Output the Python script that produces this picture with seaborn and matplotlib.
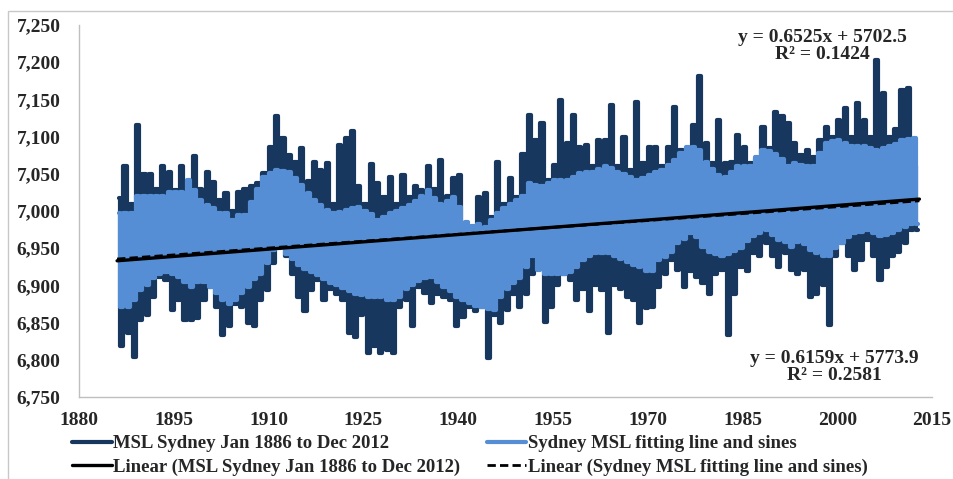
import numpy as np
import pandas as pd
import matplotlib
matplotlib.use("Agg")
import matplotlib.pyplot as plt
import seaborn as sns
from matplotlib.patches import Rectangle
from matplotlib.ticker import FuncFormatter

years = np.arange(1886, 2013)

msl_high = [
    7017, 7060, 7010, 7116, 7050, 7050, 7030, 7060, 7053, 7028,
    7060, 7040, 7074, 7030, 7052, 7039, 7015, 7024, 7000, 7026,
    7030, 7033, 7037, 7051, 7086, 7128, 7098, 7075, 7066, 7084,
    7040, 7066, 7055, 7064, 7010, 7089, 7098, 7108, 7033, 7010,
    7063, 7037, 7019, 7046, 7010, 7048, 7019, 7033, 7028, 7060,
    7030, 7069, 7020, 7044, 7048, 6981, 6978, 7019, 7024, 6992,
    7066, 7010, 7044, 7019, 7077, 7129, 7096, 7118, 7042, 7062,
    7149, 7091, 7129, 7086, 7089, 7060, 7096, 7096, 7142, 7060,
    7100, 7055, 7147, 7064, 7086, 7086, 7060, 7086, 7140, 7082,
    7080, 7115, 7181, 7091, 7065, 7122, 7064, 7066, 7102, 7086,
    7065, 7070, 7113, 7085, 7133, 7127, 7118, 7091, 7075, 7082,
    7073, 7095, 7113, 7100, 7122, 7138, 7100, 7145, 7122, 7100,
    7203, 7158, 7100, 7110, 7163, 7165, 7060,
]
msl_low = [
    6818, 6836, 6804, 6854, 6860, 6885, 6912, 6907, 6867, 6880,
    6854, 6854, 6856, 6880, 6898, 6871, 6833, 6845, 6875, 6871,
    6849, 6845, 6880, 6894, 6930, 6952, 6939, 6916, 6885, 6865,
    6894, 6907, 6880, 6895, 6889, 6880, 6836, 6831, 6860, 6809,
    6818, 6809, 6813, 6809, 6871, 6880, 6845, 6898, 6890, 6876,
    6889, 6885, 6880, 6845, 6858, 6871, 6866, 6871, 6802, 6860,
    6849, 6867, 6889, 6871, 6889, 6916, 6939, 6851, 6871, 6900,
    6916, 6907, 6880, 6895, 6865, 6900, 6894, 6836, 6900, 6895,
    6885, 6880, 6849, 6870, 6871, 6898, 6916, 6934, 6921, 6898,
    6920, 6912, 6903, 6889, 6915, 6921, 6833, 6889, 6925, 6920,
    6943, 6940, 6957, 6940, 6925, 6943, 6921, 6916, 6921, 6885,
    6889, 6900, 6847, 6939, 6957, 6940, 6921, 6934, 6961, 6940,
    6907, 6925, 6939, 6945, 6957, 6974, 6974,
]

# fitting line and sines, yearly high / low
fit_high = [
    6997, 6997, 6997, 7020, 7020, 7020, 7020, 7020, 7026, 7026,
    7026, 7042, 7028, 7015, 7008, 7004, 6997, 6997, 6988, 6995,
    6995, 7012, 7030, 7046, 7051, 7055, 7054, 7053, 7044, 7035,
    7024, 7015, 7008, 7001, 6997, 6998, 7001, 7004, 7006, 7000,
    6996, 6988, 6992, 6997, 7000, 7004, 7008, 7013, 7020, 7028,
    7018, 7010, 7014, 7019, 7005, 6985, 6980, 6982, 6979, 6988,
    6997, 7004, 7010, 7015, 7020, 7037, 7035, 7033, 7038, 7042,
    7042, 7042, 7046, 7051, 7052, 7053, 7056, 7060, 7058, 7053,
    7050, 7046, 7042, 7044, 7048, 7053, 7055, 7062, 7069, 7078,
    7086, 7086, 7082, 7066, 7056, 7048, 7046, 7053, 7060, 7060,
    7060, 7072, 7082, 7080, 7077, 7070, 7060, 7064, 7062, 7060,
    7060, 7078, 7091, 7094, 7096, 7092, 7087, 7087, 7087, 7085,
    7082, 7085, 7087, 7090, 7096, 7097, 7098,
]
fit_low = [
    6871, 6871, 6880, 6894, 6900, 6910, 6916, 6918, 6916, 6912,
    6905, 6898, 6905, 6905, 6898, 6890, 6880, 6875, 6880, 6890,
    6898, 6908, 6916, 6930, 6948, 6950, 6942, 6936, 6928, 6922,
    6918, 6914, 6908, 6903, 6900, 6897, 6893, 6889, 6887, 6885,
    6884, 6885, 6880, 6880, 6885, 6895, 6900, 6906, 6910, 6912,
    6905, 6898, 6892, 6885, 6880, 6876, 6873, 6871, 6869, 6867,
    6885, 6895, 6903, 6910, 6925, 6939, 6921, 6916, 6916, 6916,
    6916, 6918, 6925, 6934, 6940, 6943, 6943, 6943, 6940, 6935,
    6932, 6928, 6925, 6920, 6920, 6934, 6938, 6945, 6957, 6962,
    6970, 6965, 6952, 6945, 6942, 6939, 6942, 6946, 6950, 6960,
    6966, 6970, 6974, 6968, 6961, 6958, 6952, 6958, 6955, 6948,
    6943, 6940, 6940, 6950, 6957, 6965, 6970, 6972, 6974, 6970,
    6966, 6968, 6970, 6975, 6979, 6982, 6983,
]

# Excel trendlines
trend_msl = (0.6525, 5702.5, 0.1424)
trend_fit = (0.6159, 5773.9, 0.2581)

lbl_msl = "MSL Sydney Jan 1886 to Dec 2012"
lbl_fit = "Sydney MSL fitting line and sines"

dark = "#17375E"
light = "#558ED5"

# high/low within each year
t = np.column_stack((years + 0.25, years + 0.75)).ravel()
df = pd.concat([
    pd.DataFrame({"t": t, "v": np.column_stack((msl_high, msl_low)).ravel(), "s": lbl_msl}),
    pd.DataFrame({"t": t, "v": np.column_stack((fit_high, fit_low)).ravel(), "s": lbl_fit}),
])

sns.set_theme(style="white")
plt.rcParams["font.family"] = ["Liberation Serif", "DejaVu Serif"]
plt.rcParams["font.weight"] = "bold"

fig = plt.figure(figsize=(9.54, 4.79), dpi=100)
ax = fig.add_axes([0.083, 0.171, 0.894, 0.777])

sns.lineplot(data=df[df.s == lbl_msl], x="t", y="v", ax=ax, color=dark, lw=3.0,
             estimator=None, sort=False, drawstyle="steps-mid", label=lbl_msl)
sns.lineplot(data=df[df.s == lbl_fit], x="t", y="v", ax=ax, color=light, lw=3.0,
             estimator=None, sort=False, drawstyle="steps-mid", label=lbl_fit)

xt = np.array([years[0], years[-1] + 1])
ax.plot(xt, trend_msl[0] * xt + trend_msl[1], color="black", lw=2.4,
        label="Linear (" + lbl_msl + ")")
ax.plot(xt, trend_fit[0] * xt + trend_fit[1], color="black", lw=2.0, dashes=(3, 1.5),
        label="Linear (" + lbl_fit + ")")

ax.text(0.871, 0.943, f"y = {trend_msl[0]}x + {trend_msl[1]}\nR² = {trend_msl[2]}",
        transform=ax.transAxes, ha="center", va="center", fontsize=14,
        fontweight="bold", linespacing=1.0)
ax.text(0.885, 0.08, f"y = {trend_fit[0]}x + {trend_fit[1]}\nR² = {trend_fit[2]}",
        transform=ax.transAxes, ha="center", va="center", fontsize=14,
        fontweight="bold", linespacing=1.0)

ax.set_xlim(1880, 2015)
ax.set_ylim(6750, 7250)
ax.set_xticks(np.arange(1880, 2016, 15))
ax.set_yticks(np.arange(6750, 7251, 50))
ax.yaxis.set_major_formatter(FuncFormatter(lambda v, p: f"{v:,.0f}"))
ax.tick_params(axis="both", length=0, labelsize=14)
ax.tick_params(axis="y", pad=13.5)
ax.tick_params(axis="x", pad=11)
for lab in ax.get_xticklabels() + ax.get_yticklabels():
    lab.set_fontweight("bold")
ax.set_xlabel("")
ax.set_ylabel("")
for side in ["top", "right"]:
    ax.spines[side].set_visible(False)
for side in ["left", "bottom"]:
    ax.spines[side].set_color("#BFBFBF")
    ax.spines[side].set_linewidth(1)

handles, labels = ax.get_legend_handles_labels()
ax.legend_.remove()
order = [0, 2, 1, 3]
fig.legend([handles[i] for i in order], [labels[i] for i in order], ncol=2,
           loc="lower left", bbox_to_anchor=(0.058, -0.029), frameon=False,
           handlelength=2.1, handletextpad=0.1, columnspacing=1.4, labelspacing=0.35,
           prop={"weight": "bold", "size": 13.5})

fig.patches.append(Rectangle((8 / 954, -0.05), 1.2, 1.05 - 11 / 479, transform=fig.transFigure,
                             fill=False, edgecolor="#C8C8C8", lw=1))

fig.savefig("out.png", dpi=100)
